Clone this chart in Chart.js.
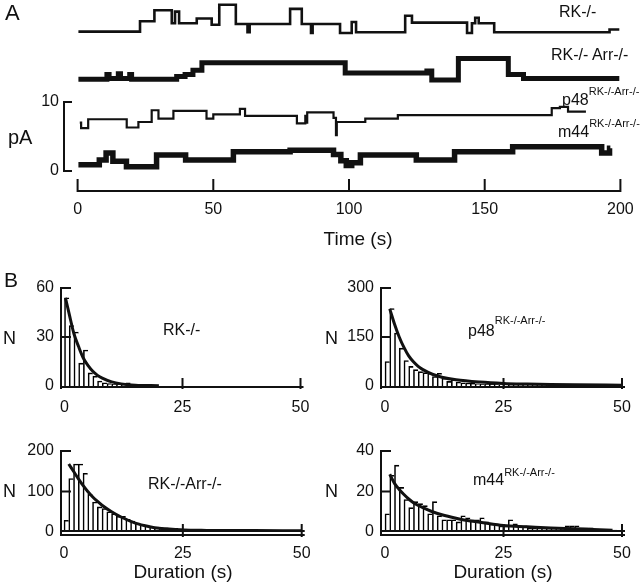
<!DOCTYPE html>
<html>
<head>
<meta charset="utf-8">
<script src="https://cdn.jsdelivr.net/npm/chart.js@4.4.1/dist/chart.umd.min.js"></script>
<style>
html,body{margin:0;padding:0;background:#fff;}
body{position:relative;width:640px;height:586px;overflow:hidden;font-family:"Liberation Sans",Arial,Helvetica,sans-serif;color:#000;}
canvas{position:absolute;}
.t{position:absolute;white-space:nowrap;line-height:1;font-size:16px;color:#111;}
.s{font-size:11px;position:relative;}
.c{transform:translateX(-50%);}
</style>
</head>
<body>
<canvas id="chartA" width="640" height="250" style="left:0px;top:0px"></canvas>
<canvas id="chartB1" width="320" height="170" style="left:0px;top:250px"></canvas>
<canvas id="chartB2" width="320" height="170" style="left:320px;top:250px"></canvas>
<canvas id="chartB3" width="320" height="166" style="left:0px;top:420px"></canvas>
<canvas id="chartB4" width="320" height="166" style="left:320px;top:420px"></canvas>

<div class="t" style="left:5px;top:2px;font-size:22px">A</div>
<div class="t" style="left:559px;top:4px">RK-/-</div>
<div class="t" style="left:551px;top:47px">RK-/- Arr-/-</div>
<div class="t" style="left:562px;top:92px">p48<span class="s" style="top:-10px">RK-/-Arr-/-</span></div>
<div class="t" style="left:558px;top:124px">m44<span class="s" style="top:-10px">RK-/-Arr-/-</span></div>
<div class="t" style="left:8px;top:127px;font-size:20px">pA</div>
<div class="t c" style="left:358px;top:229px;font-size:19px">Time (s)</div>

<div class="t" style="left:4px;top:269px;font-size:21px">B</div>
<div class="t" style="left:3px;top:329px;font-size:18px">N</div>
<div class="t" style="left:325px;top:329px;font-size:18px">N</div>
<div class="t" style="left:3px;top:482px;font-size:18px">N</div>
<div class="t" style="left:325px;top:482px;font-size:18px">N</div>
<div class="t" style="left:163px;top:322px">RK-/-</div>
<div class="t" style="left:468px;top:323px">p48<span class="s" style="top:-12px">RK-/-Arr-/-</span></div>
<div class="t" style="left:148px;top:476px">RK-/-Arr-/-</div>
<div class="t" style="left:473px;top:472px">m44<span class="s" style="top:-9px">RK-/-Arr-/-</span></div>
<div class="t c" style="left:183px;top:562px;font-size:19px">Duration (s)</div>
<div class="t c" style="left:503px;top:562px;font-size:19px">Duration (s)</div>

<script>
// ---------------- Panel A: current traces (pA), step levels ----------------
const timeTicks = [0, 50, 100, 150, 200];
const pAScaleTicks = [0, 10];

const rkTimes  = [0.3, 23.0, 28.3, 34.7, 35.9, 37.4, 43.9, 49.4, 52.2, 58.3, 62.6, 63.4, 78.3, 82.6, 86.0, 86.6, 96.7, 101.0, 102.6, 120.7, 123.2, 143.5, 145.3, 146.5, 147.8, 153.5, 196.0, 199.6];
const rkLevels = [20.2, 21.7, 23.3, 21.4, 23.1, 21.4, 22.1, 21.2, 24.1, 21.3, 20.1, 21.3, 23.5, 21.3, 20.0, 21.3, 20.0, 21.6, 20.1, 22.5, 21.5, 20.0, 21.4, 22.2, 21.4, 20.1, 20.5, 20.5];

const arrTimes  = [0.3, 10.8, 11.6, 15.0, 15.8, 19.2, 19.9, 36.5, 39.6, 42.5, 45.8, 98.6, 128.7, 130.5, 140.3, 158.7, 164.3, 199.6];
const arrLevels = [13.3, 14.0, 13.4, 14.1, 13.4, 14.0, 13.3, 13.7, 14.0, 14.6, 15.7, 14.2, 14.5, 13.2, 16.3, 14.0, 13.4, 13.4];

const p48Times  = [0.8, 1.3, 3.9, 18.1, 22.4, 27.3, 29.8, 35.3, 47.5, 50.0, 59.8, 61.7, 80.8, 83.9, 84.2, 84.6, 94.3, 95.2, 95.5, 106.0, 118.0, 174.7, 177.7, 180.7, 187.3];
const p48Levels = [7.0, 6.2, 7.5, 6.3, 7.1, 8.8, 7.6, 8.7, 7.6, 8.2, 9.0, 8.0, 6.9, 8.0, 7.0, 8.5, 7.7, 5.2, 7.1, 7.6, 8.1, 9.1, 9.3, 8.6, 8.6];

const m44Times  = [0.3, 8.0, 10.5, 13.0, 18.0, 29.1, 39.8, 57.4, 78.3, 94.3, 97.0, 99.0, 101.0, 104.2, 124.8, 138.9, 160.3, 193.1, 196.0, 196.3];
const m44Levels = [0.9, 1.6, 2.6, 1.4, 0.6, 2.3, 1.6, 2.8, 3.0, 2.4, 1.5, 0.8, 1.2, 2.3, 1.6, 2.8, 3.5, 2.6, 3.3, 3.3];

// ---------------- Panel B: dwell-time histograms (1 s bins from 0 s) and fitted curves ----------------
const durTicks = [0, 25, 50];

const rkTicksN = [0, 30, 60];
const rkCounts = [54, 37, 33, 14, 22, 8, 6, 3, 2, 1.5, 1, 1, 0.5, 2, 0];
const rkFitT = [0.2, 1, 2, 3, 4, 5, 6, 7, 8, 10, 12, 15, 20];
const rkFitN = [54, 44, 32, 24, 17, 12.5, 9, 6.5, 4.8, 2.5, 1.3, 0.5, 0.2];

const p48TicksN = [0, 150, 300];
const p48Counts = [75, 237, 162, 116, 78, 60, 50, 44, 41, 39, 29, 39, 24, 14, 19, 12, 10, 9, 8, 7, 6, 6, 5, 5, 4, 4, 3, 3, 3, 3, 3, 2, 2, 2, 2, 2, 2, 2, 2, 2, 2, 2, 2, 2, 2, 1, 1, 1, 1, 1];
const p48FitT = [1, 2, 3, 4, 5, 6, 7, 8, 10, 12, 15, 20, 25, 30, 35, 40, 50];
const p48FitN = [236, 190, 150, 118, 92, 74, 60, 50, 36, 27, 19, 12, 8, 6, 4.5, 3.5, 2.5];

const arrTicksN = [0, 100, 200];
const arrCounts = [29, 132, 168, 168, 145, 93, 74, 62, 58, 50, 45, 39, 39, 31, 27, 22, 19, 17, 14, 12, 11, 10, 9, 9, 8, 7, 6, 6, 5, 5, 5, 5, 4, 4, 4, 4, 4, 3, 3, 3, 3, 3, 3, 3, 3, 3, 2, 2, 2, 2];
const arrFitT = [1, 2, 3, 4, 5, 6, 7, 8, 10, 12, 15, 18, 20, 25, 30, 40, 50];
const arrFitN = [168, 150, 132, 115, 100, 87, 76, 66, 50, 37, 22, 13, 9, 5, 4, 3.5, 3];

const m44TicksN = [0, 20, 40];
const m44Counts = [9, 28, 33, 22, 16, 12, 15, 14, 13, 9, 15, 8, 6, 6, 6, 5, 8, 7, 6, 6, 7, 5, 4, 4, 3, 3, 6, 4, 3, 3, 2, 2, 2, 2, 2, 2, 2, 2, 3, 3, 3, 2, 2, 2, 1, 1, 1, 1, 1, 0];
const m44FitT = [1, 2, 3, 4, 5, 6, 8, 10, 12, 15, 18, 20, 25, 30, 35, 40, 48];
const m44FitN = [28.5, 24, 21, 18.5, 16.3, 14.5, 12, 10, 8.5, 6.8, 5.4, 4.8, 3.2, 2.6, 2, 1.6, 0.9];

// ---------------- helpers ----------------
const FONT = '"Liberation Sans", Arial, Helvetica, sans-serif';
const pts = (xs, ys) => xs.map((v, i) => ({x: v, y: ys[i]}));
const bins = (counts) => counts.map((n, i) => ({x: i + 0.5, y: n}));
const setTicks = (arr) => (s) => { s.ticks = arr.map(v => ({value: v})); };

const framePlugin = {
  id: 'frame',
  afterDatasetsDraw(chart, args, o) {
    const {ctx, chartArea: a} = chart;
    const x = chart.scales.x, y = chart.scales.y;
    ctx.save();
    ctx.strokeStyle = '#111'; ctx.fillStyle = '#111';
    ctx.lineWidth = 2; ctx.lineCap = 'butt'; ctx.lineJoin = 'miter';
    ctx.font = '16px ' + FONT;
    if (o.kind === 'trace') {
      const yb = y.ticks.map(t => y.getPixelForValue(t.value));
      const yLo = Math.max(...yb), yHi = Math.min(...yb);
      ctx.beginPath();
      ctx.moveTo(o.barX + 8, yHi); ctx.lineTo(o.barX, yHi);
      ctx.lineTo(o.barX, yLo); ctx.lineTo(o.barX + 8, yLo);
      ctx.stroke();
      ctx.textAlign = 'right'; ctx.textBaseline = 'middle';
      y.ticks.forEach(t => ctx.fillText(String(t.value), o.barX - 5, y.getPixelForValue(t.value)));
      const yA = a.bottom;
      ctx.beginPath();
      ctx.moveTo(x.getPixelForValue(x.min), yA); ctx.lineTo(x.getPixelForValue(x.max), yA);
      x.ticks.forEach(t => { const p = x.getPixelForValue(t.value); ctx.moveTo(p, yA + 1); ctx.lineTo(p, yA - 12); });
      ctx.stroke();
      ctx.textAlign = 'center';
      x.ticks.forEach(t => ctx.fillText(String(t.value), x.getPixelForValue(t.value), yA + 19));
    } else {
      const L = a.left, y0 = y.getPixelForValue(0);
      const xr = x.getPixelForValue(x.max);
      ctx.beginPath();
      ctx.moveTo(L, y0 + 3); ctx.lineTo(L, y.getPixelForValue(y.max));
      y.ticks.forEach(t => { if (t.value !== 0) { const p = y.getPixelForValue(t.value); ctx.moveTo(L - 1, p); ctx.lineTo(L + 10, p); } });
      ctx.moveTo(L - 1, y0 + o.base); ctx.lineTo(xr + 3, y0 + o.base);
      if (o.dbl) { ctx.moveTo(L, y0 - 1); ctx.lineTo(xr + 3, y0 - 1); }
      x.ticks.forEach(t => { if (t.value !== 0) { const p = x.getPixelForValue(t.value); ctx.moveTo(p, y0 - 8); ctx.lineTo(p, y0 + o.base + 2); } });
      ctx.stroke();
      ctx.textAlign = 'right'; ctx.textBaseline = 'middle';
      y.ticks.forEach(t => ctx.fillText(String(t.value), L - 7, y.getPixelForValue(t.value)));
      ctx.textAlign = 'center';
      x.ticks.forEach(t => ctx.fillText(String(t.value), x.getPixelForValue(t.value), y0 + 22));
    }
    ctx.restore();
  }
};

const common = {
  responsive: false, animation: false, events: [],
  plugins: {legend: {display: false}, tooltip: {enabled: false}, title: {display: false}}
};

// ---------------- Panel A chart ----------------
function trace(times, levels, w) {
  return {data: pts(times, levels), borderColor: '#111', borderWidth: w, pointRadius: 0, stepped: true, fill: false};
}
new Chart(document.getElementById('chartA'), {
  type: 'line',
  data: {datasets: [
    trace(rkTimes, rkLevels, 2.6),
    trace(arrTimes, arrLevels, 5),
    trace(p48Times, p48Levels, 2.2),
    trace(m44Times, m44Levels, 5.5)
  ]},
  options: Object.assign({}, common, {
    layout: {padding: {left: 77.6, right: 19.6, top: 0, bottom: 59}},
    plugins: Object.assign({}, common.plugins, {frame: {kind: 'trace', barX: 64}}),
    scales: {
      x: {type: 'linear', min: 0, max: 200, display: false, afterBuildTicks: setTicks(timeTicks)},
      y: {type: 'linear', min: -2.9, max: 24.78, display: false, afterBuildTicks: setTicks(pAScaleTicks)}
    }
  }),
  plugins: [framePlugin]
});

// ---------------- Panel B charts ----------------
function hist(id, counts, fitT, fitN, ticksN, xmin, pad, dbl) {
  new Chart(document.getElementById(id), {
    type: 'bar',
    data: {datasets: [
      {type: 'line', data: pts(fitT, fitN), borderColor: '#111', borderWidth: 3, pointRadius: 0,
       cubicInterpolationMode: 'monotone', fill: false, order: 1},
      {type: 'bar', data: bins(counts), backgroundColor: '#fff', borderColor: '#000',
       borderWidth: {top: 1.6, left: 1.6, right: 0, bottom: 0}, borderSkipped: 'start',
       barPercentage: 1, categoryPercentage: 1, order: 2}
    ]},
    options: Object.assign({}, common, {
      layout: {padding: pad},
      plugins: Object.assign({}, common.plugins, {frame: {kind: 'hist', base: dbl ? 3 : 1, dbl: dbl}}),
      scales: {
        x: {type: 'linear', min: xmin, max: 50, offset: false, display: false, afterBuildTicks: setTicks(durTicks)},
        y: {type: 'linear', min: 0, max: ticksN[ticksN.length - 1], display: false, afterBuildTicks: setTicks(ticksN)}
      }
    }),
    plugins: [framePlugin]
  });
}
hist('chartB1', rkCounts, rkFitT, rkFitN, rkTicksN, -0.742, {left: 61, right: 19.5, top: 38, bottom: 34}, false);
hist('chartB2', p48Counts, p48FitT, p48FitN, p48TicksN, -0.844, {left: 61, right: 18, top: 38, bottom: 34}, false);
hist('chartB3', arrCounts, arrFitT, arrFitN, arrTicksN, -0.631, {left: 61, right: 18.3, top: 31, bottom: 54}, true);
hist('chartB4', m44Counts, m44FitT, m44FitN, m44TicksN, -0.844, {left: 61, right: 18, top: 31, bottom: 54}, true);
</script>
</body>
</html>
